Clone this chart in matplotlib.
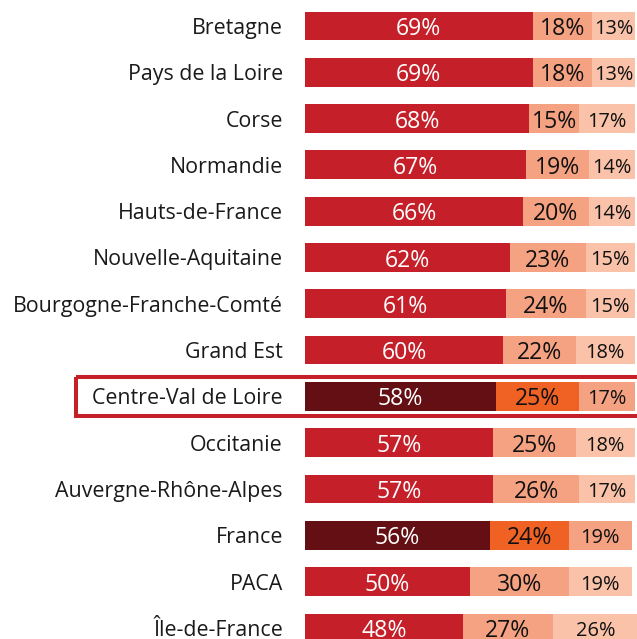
import numpy as np
import matplotlib.pyplot as plt
import matplotlib.transforms as mtransforms
from matplotlib.patches import Rectangle

plt.rcParams['font.family'] = ['Open Sans', 'DejaVu Sans']

regions = ["Bretagne", "Pays de la Loire", "Corse", "Normandie", "Hauts-de-France",
           "Nouvelle-Aquitaine", "Bourgogne-Franche-Comté", "Grand Est",
           "Centre-Val de Loire", "Occitanie", "Auvergne-Rhône-Alpes", "France",
           "PACA", "Île-de-France"]
part1 = [69, 69, 68, 67, 66, 62, 61, 60, 58, 57, 57, 56, 50, 48]
part2 = [18, 18, 15, 19, 20, 23, 24, 22, 25, 25, 26, 24, 30, 27]
part3 = [13, 13, 17, 14, 14, 15, 15, 18, 17, 18, 17, 19, 19, 26]
highlight = ["Centre-Val de Loire", "France"]

red, salmon, light = "#C5202A", "#F5A282", "#FAC3A9"
dark, orange = "#640F14", "#F06124"

W, H = 637, 639
fig = plt.figure(figsize=(W / 100, H / 100), dpi=100)
ax = fig.add_axes([305 / W, 0, 1 - 305 / W, 1])

y = np.arange(len(regions))
c1 = [dark if r in highlight else red for r in regions]
c2 = [orange if r in highlight else salmon for r in regions]
c3 = [salmon if r in highlight else light for r in regions]
h = 0.62
p1 = np.array(part1)
p2 = np.array(part2)
p3 = np.array(part3)
ax.barh(y, p1, height=h, color=c1)
ax.barh(y, p2, left=p1, height=h, color=c2)
ax.barh(y, p3, left=p1 + p2, height=h, color=c3)


def label(x, yy, txt, size, color):
    # put the digits' middle on the bar's middle
    ax.annotate(txt, (x, yy), xytext=(0, -0.36 * size - 0.6), textcoords="offset points",
                ha="center", va="baseline", color=color, fontsize=size)


for i in y:
    label(p1[i] / 2, i, f"{p1[i]}%", 16.6, "white")
    label(p1[i] + p2[i] / 2, i, f"{p2[i]}%", 16.6, "#111111")
    label(p1[i] + p2[i] + p3[i] / 2, i, f"{p3[i]}%", 14.4, "#111111")

ax.set_xlim(0, 100.6)
ax.set_ylim(13.24, -0.56)
ax.set_yticks(y)
ax.set_yticklabels(regions, fontsize=15.4, color="#1a1a1a")
ax.tick_params(axis="y", length=0, pad=16)
ax.set_xticks([])
for s in ax.spines.values():
    s.set_visible(False)

# box around the highlighted region
k = regions.index("Centre-Val de Loire")
trans = mtransforms.blended_transform_factory(fig.transFigure, ax.transData)
ax.add_patch(Rectangle((76 / W, k - 0.42), 1.0, 0.84, transform=trans, fill=False,
                       edgecolor=red, linewidth=2.9, clip_on=False))

fig.savefig("out.png", dpi=100)
